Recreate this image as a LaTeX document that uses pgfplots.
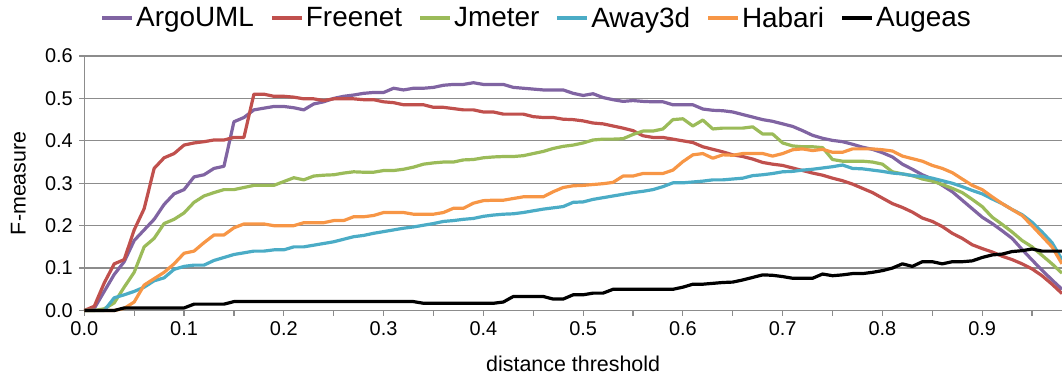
\documentclass[border=0pt]{standalone}
\usepackage{fontspec}
\setmainfont{Liberation Sans}
\usepackage{pgfplots}
\usepackage{pgfplotstable}
\pgfplotsset{compat=1.18}
\definecolor{cArgo}{HTML}{8064A2}
\definecolor{cFree}{HTML}{C0504D}
\definecolor{cJmeter}{HTML}{9BBB59}
\definecolor{cAway}{HTML}{4BACC6}
\definecolor{cHabari}{HTML}{F79646}
\definecolor{cGrid}{HTML}{8C8C8C}
\pgfplotstableread{
x argo free jmeter away habari augeas
0.00 0.000 0.000 0.000 0.000 0.000 0.000
0.01 0.005 0.010 0.000 0.000 0.000 0.000
0.02 0.045 0.065 0.004 0.000 0.000 0.000
0.03 0.085 0.110 0.018 0.030 0.000 0.000
0.04 0.115 0.120 0.055 0.037 0.005 0.006
0.05 0.165 0.190 0.090 0.045 0.020 0.006
0.06 0.190 0.240 0.150 0.055 0.060 0.006
0.07 0.215 0.335 0.170 0.070 0.075 0.006
0.08 0.250 0.360 0.205 0.077 0.090 0.006
0.09 0.275 0.370 0.215 0.097 0.110 0.006
0.10 0.285 0.390 0.230 0.104 0.135 0.006
0.11 0.315 0.395 0.255 0.107 0.140 0.015
0.12 0.320 0.398 0.270 0.107 0.160 0.015
0.13 0.335 0.402 0.278 0.118 0.178 0.015
0.14 0.340 0.402 0.285 0.125 0.178 0.015
0.15 0.445 0.408 0.285 0.132 0.195 0.021
0.16 0.455 0.408 0.290 0.136 0.204 0.021
0.17 0.473 0.510 0.295 0.140 0.204 0.021
0.18 0.477 0.510 0.295 0.140 0.204 0.021
0.19 0.481 0.505 0.295 0.143 0.200 0.021
0.20 0.481 0.505 0.304 0.143 0.200 0.021
0.21 0.478 0.503 0.313 0.150 0.200 0.021
0.22 0.473 0.499 0.308 0.150 0.207 0.021
0.23 0.487 0.499 0.317 0.154 0.207 0.021
0.24 0.492 0.495 0.319 0.158 0.207 0.021
0.25 0.500 0.499 0.320 0.162 0.212 0.021
0.26 0.505 0.499 0.324 0.168 0.212 0.021
0.27 0.508 0.499 0.327 0.174 0.221 0.021
0.28 0.512 0.497 0.326 0.177 0.221 0.021
0.29 0.514 0.497 0.326 0.182 0.224 0.021
0.30 0.514 0.492 0.330 0.186 0.231 0.021
0.31 0.524 0.490 0.330 0.190 0.231 0.021
0.32 0.520 0.485 0.333 0.194 0.231 0.021
0.33 0.524 0.485 0.338 0.197 0.227 0.021
0.34 0.524 0.485 0.345 0.201 0.227 0.017
0.35 0.526 0.479 0.348 0.205 0.227 0.017
0.36 0.531 0.479 0.350 0.210 0.231 0.017
0.37 0.533 0.476 0.350 0.212 0.241 0.017
0.38 0.533 0.473 0.355 0.215 0.241 0.017
0.39 0.537 0.473 0.356 0.217 0.253 0.017
0.40 0.533 0.468 0.360 0.222 0.259 0.017
0.41 0.533 0.468 0.362 0.225 0.260 0.017
0.42 0.533 0.463 0.363 0.227 0.260 0.020
0.43 0.526 0.463 0.363 0.228 0.264 0.033
0.44 0.524 0.463 0.365 0.231 0.268 0.033
0.45 0.522 0.457 0.370 0.235 0.268 0.033
0.46 0.520 0.455 0.375 0.239 0.268 0.033
0.47 0.520 0.455 0.382 0.242 0.280 0.027
0.48 0.520 0.451 0.387 0.245 0.290 0.027
0.49 0.512 0.450 0.390 0.255 0.294 0.037
0.50 0.507 0.447 0.395 0.256 0.295 0.037
0.51 0.511 0.442 0.402 0.262 0.297 0.041
0.52 0.502 0.440 0.404 0.266 0.299 0.041
0.53 0.497 0.435 0.404 0.270 0.302 0.050
0.54 0.493 0.430 0.405 0.274 0.317 0.050
0.55 0.495 0.424 0.415 0.278 0.317 0.050
0.56 0.493 0.412 0.423 0.281 0.323 0.050
0.57 0.492 0.408 0.423 0.285 0.323 0.050
0.58 0.492 0.408 0.428 0.292 0.323 0.050
0.59 0.485 0.404 0.450 0.301 0.331 0.050
0.60 0.485 0.400 0.452 0.301 0.351 0.055
0.61 0.485 0.396 0.435 0.303 0.367 0.062
0.62 0.475 0.386 0.449 0.305 0.370 0.062
0.63 0.472 0.380 0.428 0.308 0.359 0.064
0.64 0.471 0.374 0.430 0.308 0.367 0.066
0.65 0.468 0.367 0.430 0.310 0.366 0.067
0.66 0.462 0.363 0.430 0.312 0.370 0.072
0.67 0.456 0.357 0.433 0.318 0.370 0.078
0.68 0.450 0.349 0.416 0.320 0.370 0.084
0.69 0.446 0.345 0.416 0.323 0.364 0.083
0.70 0.440 0.342 0.395 0.327 0.370 0.080
0.71 0.434 0.336 0.388 0.328 0.379 0.076
0.72 0.424 0.330 0.386 0.331 0.381 0.076
0.73 0.413 0.324 0.386 0.333 0.377 0.076
0.74 0.406 0.319 0.384 0.336 0.380 0.086
0.75 0.401 0.312 0.356 0.339 0.373 0.082
0.76 0.398 0.306 0.352 0.343 0.373 0.084
0.77 0.392 0.298 0.352 0.335 0.381 0.087
0.78 0.385 0.288 0.352 0.334 0.381 0.087
0.79 0.380 0.278 0.350 0.331 0.381 0.090
0.80 0.372 0.265 0.345 0.328 0.379 0.094
0.81 0.362 0.252 0.327 0.324 0.376 0.100
0.82 0.345 0.243 0.322 0.322 0.364 0.110
0.83 0.333 0.232 0.318 0.318 0.358 0.104
0.84 0.320 0.218 0.310 0.316 0.352 0.115
0.85 0.310 0.210 0.305 0.312 0.342 0.115
0.86 0.295 0.198 0.297 0.306 0.335 0.110
0.87 0.280 0.182 0.288 0.300 0.325 0.115
0.88 0.260 0.170 0.278 0.292 0.310 0.115
0.89 0.240 0.155 0.262 0.283 0.295 0.117
0.90 0.220 0.146 0.245 0.275 0.285 0.125
0.91 0.205 0.138 0.220 0.263 0.268 0.131
0.92 0.188 0.128 0.203 0.252 0.252 0.133
0.93 0.170 0.120 0.185 0.238 0.238 0.139
0.94 0.144 0.110 0.165 0.226 0.224 0.141
0.95 0.119 0.098 0.150 0.208 0.200 0.145
0.96 0.095 0.082 0.130 0.185 0.175 0.140
0.97 0.072 0.062 0.110 0.160 0.150 0.140
0.98 0.050 0.040 0.088 0.120 0.110 0.140
}\datatable
\begin{document}
\begin{tikzpicture}
\begin{axis}[
  scale only axis,
  width=977.7bp, height=254.5bp,
  xmin=0, xmax=0.98, ymin=0, ymax=0.6,
  clip=false,
  axis x line*=bottom, axis y line*=left,
  axis line style={cGrid, line width=1.2bp, -},
  xtick={0,0.1,0.2,0.3,0.4,0.5,0.6,0.7,0.8,0.9},
  minor xtick={0.05,0.15,0.25,0.35,0.45,0.55,0.65,0.75,0.85,0.95},
  ytick={0,0.1,0.2,0.3,0.4,0.5,0.6},
  tick align=outside,
  major tick length=5bp, minor tick length=5bp,
  tick style={cGrid, line width=1.2bp},
  ymajorgrids,
  major grid style={cGrid, line width=1.2bp},
  xticklabel style={/pgf/number format/.cd, fixed, fixed zerofill, precision=1, assume math mode=true, /tikz/.cd, yshift=-3bp},
  yticklabel style={/pgf/number format/.cd, fixed, fixed zerofill, precision=1, assume math mode=true, /tikz/.cd, xshift=-3bp},
  tick label style={font=\fontsize{20}{22}\selectfont},
  xlabel={distance threshold},
  ylabel={F-measure},
  label style={font=\fontsize{21.5}{23}\selectfont},
  xlabel style={at={(axis description cs:0.5,-0.21)}, anchor=center},
  ylabel style={at={(axis description cs:-0.0675,0.5)}, anchor=center, rotate=0},
  legend columns=6,
  legend style={at={(0.4625,1.149)}, anchor=center, draw=none, fill=none,
    font=\fontsize{28}{30}\selectfont,
    /tikz/every even column/.append style={column sep=14bp}},
  legend image code/.code={\draw[#1, line width=4bp] (0bp,0bp) -- (30bp,0bp);},
  every axis plot/.append style={line width=3.2bp, line join=round},
]
\addplot[cArgo, no marks] table[x=x, y=argo] {\datatable};
\addlegendentry{ArgoUML}
\addplot[cFree, no marks] table[x=x, y=free] {\datatable};
\addlegendentry{Freenet}
\addplot[cJmeter, no marks] table[x=x, y=jmeter] {\datatable};
\addlegendentry{Jmeter}
\addplot[cAway, no marks] table[x=x, y=away] {\datatable};
\addlegendentry{Away3d}
\addplot[cHabari, no marks] table[x=x, y=habari] {\datatable};
\addlegendentry{Habari}
\addplot[black, no marks] table[x=x, y=augeas] {\datatable};
\addlegendentry{Augeas}
\end{axis}
\pgfresetboundingbox
\path[use as bounding box] (-84.3bp,-65.5bp) rectangle (977.7bp,310.5bp);
\end{tikzpicture}
\end{document}
